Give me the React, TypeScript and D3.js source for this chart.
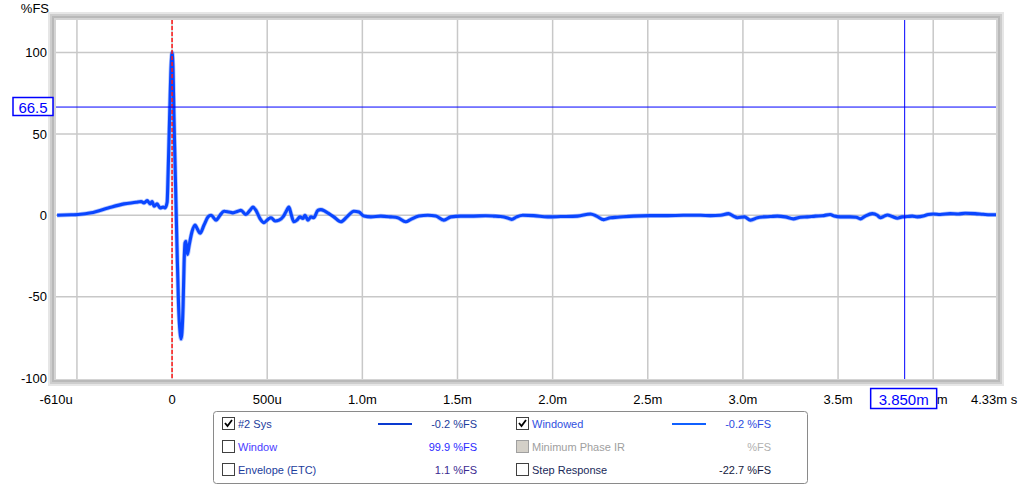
import React from "react";
import * as d3 from "d3";

// Impulse response samples: time (ms) and amplitude (%FS)
const timeMs = [
  -0.604, -0.53, -0.493, -0.425, -0.336, -0.252, -0.189, -0.163, -0.147, -0.131, -0.115, -0.105, -0.094, -0.079, -0.063, -0.047, -0.037, -0.026, -0.021, -0.013, -0.005,
  0, 0.005, 0.01, 0.018, 0.026, 0.034, 0.042, 0.047, 0.052, 0.058, 0.063, 0.068, 0.073, 0.081, 0.089, 0.105, 0.121, 0.131, 0.147, 0.168, 0.189, 0.205, 0.231, 0.252, 0.273, 0.299,
  0.32, 0.346, 0.362, 0.388, 0.409, 0.425, 0.441, 0.462, 0.483, 0.504, 0.52, 0.541, 0.562, 0.583, 0.598, 0.614, 0.625, 0.64, 0.656, 0.672, 0.688, 0.698, 0.714, 0.73, 0.745,
  0.766, 0.782, 0.803, 0.824, 0.85, 0.887, 0.919, 0.955, 0.982, 1.008, 1.045, 1.097, 1.15, 1.186, 1.228, 1.255, 1.297, 1.344, 1.386, 1.428, 1.465, 1.517, 1.585, 1.648, 1.69,
  1.727, 1.759, 1.785, 1.811, 1.843, 1.9, 1.974, 2.042, 2.131, 2.199, 2.231, 2.268, 2.304, 2.341, 2.425, 2.514, 2.604, 2.688, 2.777, 2.829, 2.882, 2.924, 2.95, 2.971, 3.008,
  3.039, 3.076, 3.108, 3.144, 3.181, 3.223, 3.265, 3.302, 3.339, 3.381, 3.417, 3.459, 3.48, 3.512, 3.564, 3.596, 3.617, 3.643, 3.68, 3.706, 3.722, 3.743, 3.759, 3.785, 3.811,
  3.837, 3.864, 3.89, 3.916, 3.948, 3.974, 4.0, 4.037, 4.089, 4.131, 4.168, 4.22, 4.262, 4.299, 4.33,
];
const valuePct = [
  0, 0.3, 0.5, 1.5, 4.5, 7, 8, 8.5, 7.5, 9, 7, 8.5, 5.5, 7, 4.5, 5, 4.5, 8, 25, 60, 92,
  100, 90, 60, 20, -20, -55, -72, -76, -72, -55, -30, -17, -16, -24, -19, -10, -6, -8, -11, -6, -1, 0, -3, 0, 2.5, 2,
  1.5, 2.5, 3, 0.5, 3, 5, 3, -2, -4.5, -2.5, -1.5, -3.5, -3, -1, 2, 5, 1, -4, -3, -1, -2, 0, -3, -1, -1.5,
  3, 3.5, 2.5, 1, -1, -4, -1, 2.5, 2, -0.5, -1, -0.5, -1, -1.5, -4, -2.5, -0.5, 0, -0.5, -3, -1, -0.5, -0.5, -0.3, -0.5,
  -0.8, -1.5, -2.5, -1, 0, -0.2, -1, -0.8, -0.5, 0.8, -0.5, -2.7, -1.5, -1.2, -0.5, -0.2, -0.2, 0, 0, -0.2, 0, 1, -0.5, -1.5, -1,
  -3, -1.5, -1, -0.8, -0.5, -1, -2.2, -1.2, -1, -0.5, -0.3, 0.5, -0.5, -1, -1, -1.2, -2.2, -0.5, 1, 0, -1.5, -0.5, 0.2, -0.8, -1.8,
  -1, -0.8, -0.5, -1, -0.5, 0.5, 0.8, 0.5, 1, 0.8, 1.2, 1, 0.6, 0.3, 0.3,
];

const xTickValues = [0, 0.5, 1.0, 1.5, 2.0, 2.5, 3.0, 3.5, 4.0];
const xTickLabels = ["0", "500u", "1.0m", "1.5m", "2.0m", "2.5m", "3.0m", "3.5m", "4.0m"];
const xGridValues = [-0.5, 0, 0.5, 1.0, 1.5, 2.0, 2.5, 3.0, 3.5, 4.0];
const yTickValues = [100, 50, 0, -50, -100];
const yTickLabels = ["100", "50", "0", "-50", "-100"];
const xDomain = [-0.61, 4.33];
const yDomain = [-100, 120];
const cursorX = 3.85;
const cursorY = 66.5;

const legendLabels = ["#2 Sys", "Window", "Envelope (ETC)", "Windowed", "Minimum Phase IR", "Step Response"];
const legendValues = ["-0.2 %FS", "99.9 %FS", "1.1 %FS", "-0.2 %FS", "%FS", "-22.7 %FS"];
const legendChecked = [true, false, false, true, false, false];

export default function App() {
  const L = 56, R = 996, T = 20, B = 378;
  const x = d3.scaleLinear().domain(xDomain).range([L, R]);
  const y = d3.scaleLinear().domain(yDomain).range([B, T]);
  const pts = timeMs.map((t, i) => [t, valuePct[i]] as [number, number]);
  const line = d3.line<[number, number]>().x(d => x(d[0])).y(d => y(d[1])).curve(d3.curveMonotoneX);
  const font = "'Liberation Sans', Arial, sans-serif";

  const labelColors = ["#1c3c9c", "#4a3cff", "#1c3c9c", "#3050e0", "#a0a0a0", "#1a2a5a"];
  const valueColors = ["#1c3c9c", "#2a2aff", "#3a2a90", "#2a4ae0", "#b0b0b0", "#141a40"];
  const lineColors = ["#0a3ad0", null, null, "#1060ff", null, null];

  return (
    <svg width={1024} height={485} style={{ position: "fixed", left: 0, top: 0, background: "#fff" }} fontFamily={font}>
      <rect x={0} y={0} width={1024} height={485} fill="#fff" />
      {/* frame */}
      <rect x={48} y={12} width={956} height={374} fill="#e6e6e6" />
      <rect x={50} y={14} width={952} height={370} fill="#cdcdcd" />
      <rect x={52} y={16} width={948} height={366} fill="#b9b9b9" />
      <rect x={54} y={18} width={944} height={362} fill="#d4d4d4" />
      <rect x={L} y={T} width={R - L} height={B - T + 1} fill="#fff" />
      <defs>
        <clipPath id="plot">
          <rect x={L} y={T} width={R - L} height={B - T + 1} />
        </clipPath>
      </defs>
      {/* grid */}
      {xGridValues.map(v => (
        <line key={"gx" + v} x1={x(v)} x2={x(v)} y1={T} y2={B + 1} stroke="#c8c8c8" strokeWidth={1.5} />
      ))}
      {yTickValues.filter(v => v > -100).map(v => (
        <line key={"gy" + v} x1={L} x2={R} y1={y(v)} y2={y(v)} stroke="#c8c8c8" strokeWidth={1.5} />
      ))}
      {/* curve */}
      <g clipPath="url(#plot)">
        <path d={line(pts) || ""} fill="none" stroke="#7d9cff" strokeWidth={4.6} strokeLinejoin="round" opacity={0.6} />
        <path d={line(pts) || ""} fill="none" stroke="#0a46ff" strokeWidth={3.1} strokeLinejoin="round" />
        <line x1={x(0)} x2={x(0)} y1={T} y2={B + 1} stroke="#ff1a1a" strokeWidth={1.5} strokeDasharray="4,2" />
        <line x1={L} x2={R} y1={y(cursorY)} y2={y(cursorY)} stroke="#0000ff" strokeWidth={1} />
        <line x1={x(cursorX)} x2={x(cursorX)} y1={T} y2={B + 1} stroke="#0000ff" strokeWidth={1} />
      </g>
      {/* y axis labels */}
      <text x={49} y={13} textAnchor="end" fontSize={13} fill="#000">%FS</text>
      {yTickValues.map((v, i) => (
        <text key={"yl" + v} x={47} y={y(v)} dy="0.36em" textAnchor="end" fontSize={13} fill="#000">{yTickLabels[i]}</text>
      ))}
      {/* x axis labels */}
      <text x={x(xDomain[0])} y={404} textAnchor="middle" fontSize={13}>-610u</text>
      {xTickValues.map((v, i) => (
        <text key={"xl" + v} x={x(v)} y={404} textAnchor="middle" fontSize={13}>{xTickLabels[i]}</text>
      ))}
      <text x={971} y={404} fontSize={13}>4.33m s</text>
      {/* cursor boxes */}
      <rect x={13} y={97.5} width={40} height={18} fill="#fff" stroke="#0000ff" strokeWidth={1.5} />
      <text x={33} y={y(cursorY)} dy="0.37em" textAnchor="middle" fontSize={15} fill="#0000ff">66.5</text>
      <rect x={x(cursorX) - 34} y={388.5} width={66} height={20} fill="#fff" stroke="#0000ff" strokeWidth={1.5} />
      <text x={x(cursorX) - 1} y={404.5} textAnchor="middle" fontSize={15} fill="#0000ff">3.850m</text>
      {/* legend */}
      <rect x={213.5} y={411.5} width={594} height={72} rx={3} fill="#fff" stroke="#8a8a8a" strokeWidth={1} />
      {legendLabels.map((lab, i) => {
        const col = Math.floor(i / 3);
        const row = i % 3;
        const cx = col === 0 ? 222 : 516;
        const cy = 424 + row * 23;
        const disabled = i === 4;
        return (
          <g key={"lg" + i}>
            <rect x={cx + 0.5} y={cy - 6.5} width={12} height={12} fill={disabled ? "#d4d0c8" : "#fff"} stroke={disabled ? "#a0a0a0" : "#404040"} strokeWidth={1} />
            {legendChecked[i] && (
              <path d={`M${cx + 3},${cy - 1} L${cx + 5.5},${cy + 2} L${cx + 10},${cy - 4}`} fill="none" stroke="#000" strokeWidth={1.8} />
            )}
            <text x={cx + 16} y={cy} dy="0.36em" fontSize={11} fill={labelColors[i]}>{lab}</text>
            {lineColors[i] && (
              <line x1={cx + 156} x2={cx + 190} y1={cy} y2={cy} stroke={lineColors[i]!} strokeWidth={2} />
            )}
            <text x={cx + 255} y={cy} dy="0.36em" textAnchor="end" fontSize={11} fill={valueColors[i]}>{legendValues[i]}</text>
          </g>
        );
      })}
    </svg>
  );
}
